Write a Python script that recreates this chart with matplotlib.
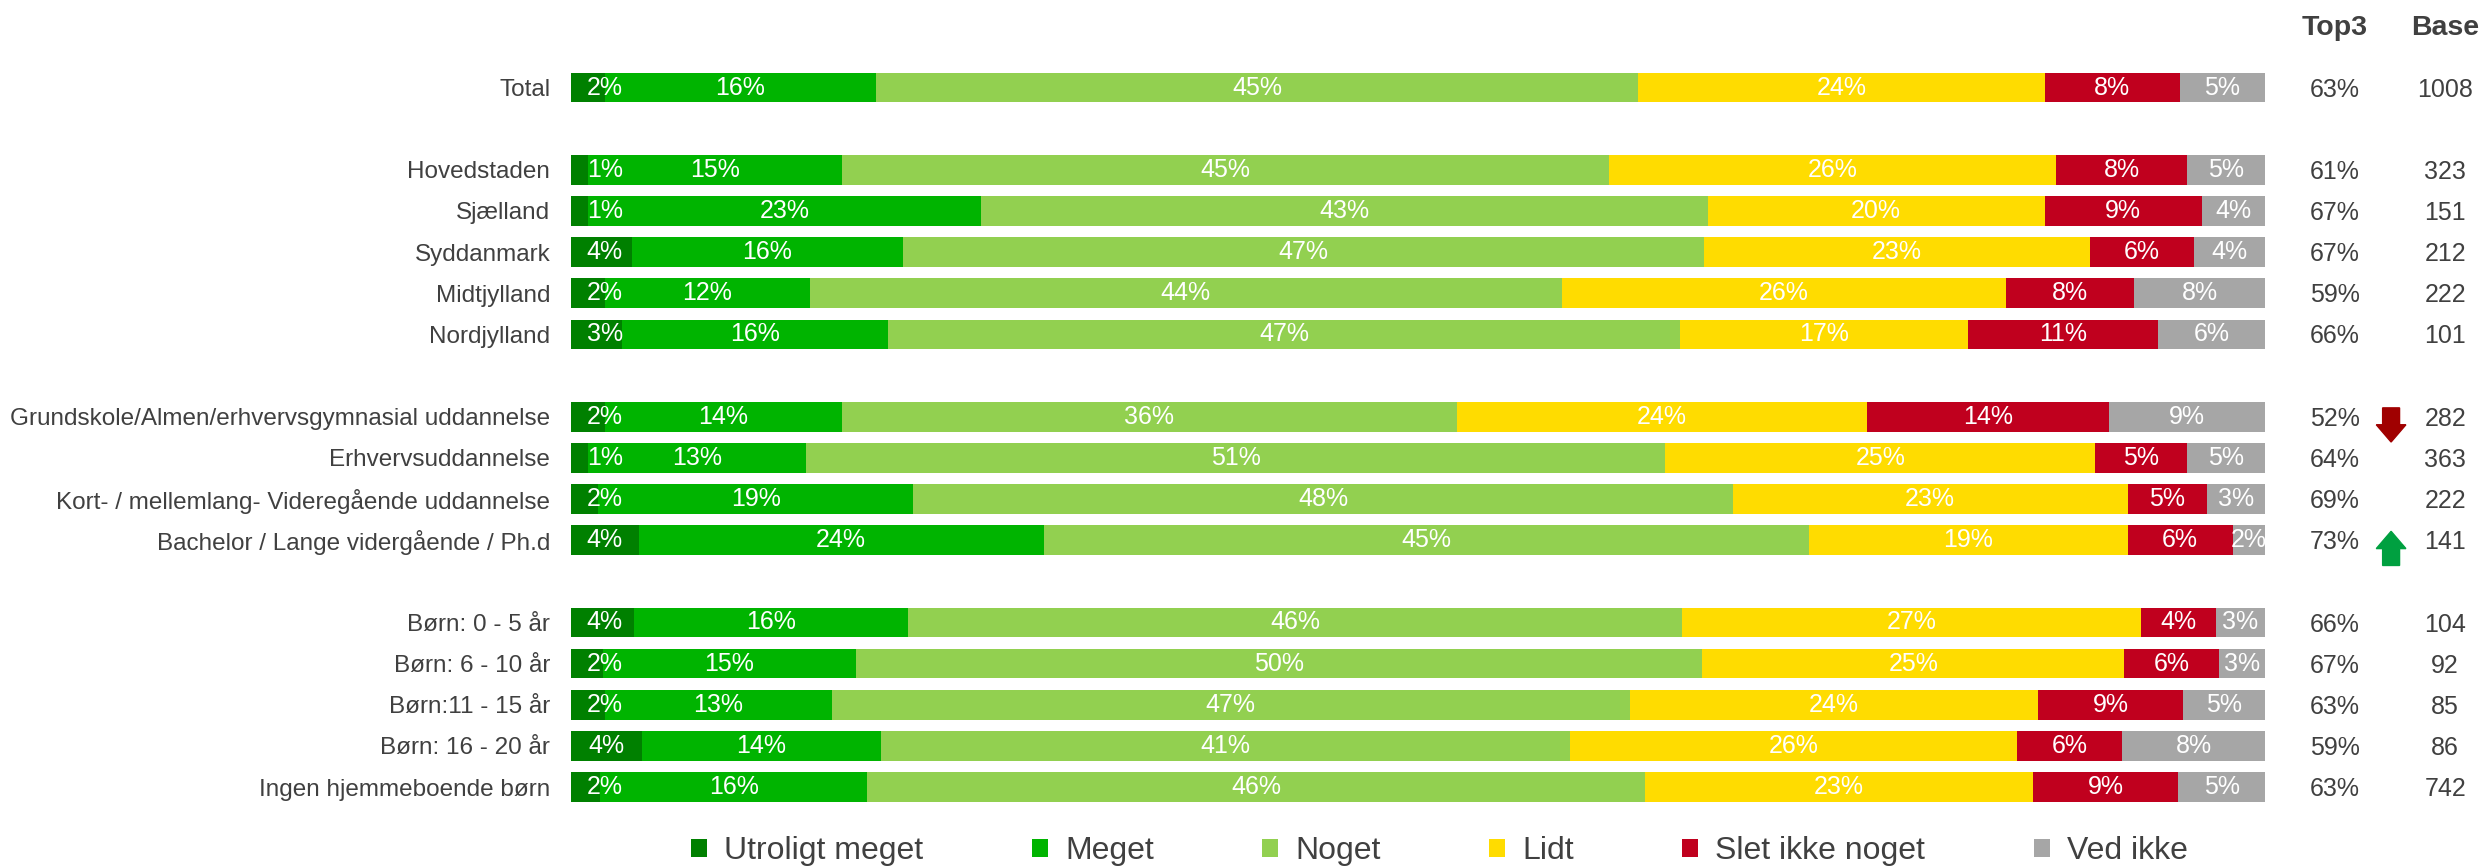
import numpy as np
import matplotlib
matplotlib.use("Agg")
import matplotlib.pyplot as plt
from matplotlib.patches import Patch, Polygon

plt.rcParams["font.family"] = ["Liberation Sans", "DejaVu Sans"]

categories = [
    "Total",
    "Hovedstaden", "Sjælland", "Syddanmark", "Midtjylland", "Nordjylland",
    "Grundskole/Almen/erhvervsgymnasial uddannelse", "Erhvervsuddannelse",
    "Kort- / mellemlang- Videregående uddannelse",
    "Bachelor / Lange vidergående / Ph.d",
    "Børn: 0 - 5 år", "Børn: 6 - 10 år", "Børn:11 - 15 år", "Børn: 16 - 20 år",
    "Ingen hjemmeboende børn",
]
group_sizes = [1, 5, 4, 5]

series_names = ["Utroligt meget", "Meget", "Noget", "Lidt", "Slet ikke noget", "Ved ikke"]
utroligt = [2, 1, 1, 3.6, 2, 3, 2, 1, 1.6, 4, 3.7, 1.9, 2, 4.2, 1.7]
meget = [16, 15, 23.2, 16.0, 12.1, 15.7, 14, 12.9, 18.6, 23.9, 16.2, 14.9, 13.4, 14.1, 15.8]
noget = [45, 45.3, 42.9, 47.3, 44.4, 46.8, 36.3, 50.7, 48.4, 45.2, 45.7, 50.0, 47.1, 40.7, 45.9]
lidt = [24, 26.4, 19.9, 22.8, 26.2, 17.0, 24.2, 25.4, 23.3, 18.8, 27.1, 24.9, 24.1, 26.4, 22.9]
slet = [8, 7.7, 9.3, 6.1, 7.6, 11.2, 14.3, 5.4, 4.7, 6.2, 4.4, 5.6, 8.6, 6.2, 8.6]
ved_ikke = [5, 4.6, 3.7, 4.2, 7.7, 6.3, 9.2, 4.6, 3.4, 1.9, 2.9, 2.7, 4.8, 8.4, 5.1]

top3 = [63, 61, 67, 67, 59, 66, 52, 64, 69, 73, 66, 67, 63, 59, 63]
base = [1008, 323, 151, 212, 222, 101, 282, 363, 222, 141, 104, 92, 85, 86, 742]
# -1 = significantly lower, 1 = significantly higher
significance = [0, 0, 0, 0, 0, 0, -1, 0, 0, 1, 0, 0, 0, 0, 0]

colors = ["#008000", "#00B400", "#92D050", "#FFDC00", "#C0001E", "#A6A6A6"]
text_color = "#404040"

# row positions, one empty row between groups
positions = []
row = 0
for size in group_sizes:
    positions.extend(range(row, row + size))
    row += size + 1
positions = np.array(positions)

fig = plt.figure(figsize=(24.86, 8.66), dpi=100)
ax = fig.add_axes([0.2297, 0.0674, 0.6813, 0.8553])

data = [utroligt, meget, noget, lidt, slet, ved_ikke]
left = np.zeros(len(categories))
for i, (vals, col) in enumerate(zip(data, colors)):
    vals = np.array(vals, dtype=float)
    ax.barh(positions, vals, left=left, height=0.72, color=col, edgecolor="none")
    for y, l, v in zip(positions, left, vals):
        x = l + v / 2
        if i == 0:
            x = max(x, 2.0)
        ax.text(x, y, f"{round(v)}%", ha="center", va="center",
                color="white", fontsize=18)
    left += vals

ax.set_xlim(0, 100)
ax.set_ylim(positions.max() + 0.5, -0.5)
ax.set_yticks(positions)
ax.set_yticklabels(categories, fontsize=17.5, color=text_color)
ax.tick_params(axis="y", length=0, pad=15)
ax.set_xticks([])
for s in ax.spines.values():
    s.set_visible(False)

# right-hand columns
x_top3, x_arrow, x_base = 104.15, 107.46, 110.65
ax.text(x_top3, -1.45, "Top3", ha="center", va="center", fontsize=20.5,
        fontweight="bold", color=text_color, clip_on=False)
ax.text(x_base, -1.45, "Base", ha="center", va="center", fontsize=20.5,
        fontweight="bold", color=text_color, clip_on=False)
for y, t, b, sg in zip(positions, top3, base, significance):
    ax.text(x_top3, y + 0.05, f"{t}%", ha="center", va="center", fontsize=18,
            color=text_color, clip_on=False)
    ax.text(x_base, y + 0.05, f"{b}", ha="center", va="center", fontsize=18,
            color=text_color, clip_on=False)
    if sg != 0:
        c = y + 0.2
        h, hl, sw, hw = 0.83, 0.42, 1.0, 1.75
        if sg < 0:
            tail, tip, d = c - h / 2, c + h / 2, -1
            col = "#A00000"
        else:
            tail, tip, d = c + h / 2, c - h / 2, 1
            col = "#00A040"
        neck = tip + d * hl
        pts = [(x_arrow - sw / 2, tail), (x_arrow + sw / 2, tail),
               (x_arrow + sw / 2, neck), (x_arrow + hw / 2, neck),
               (x_arrow, tip), (x_arrow - hw / 2, neck),
               (x_arrow - sw / 2, neck)]
        ax.add_patch(Polygon(pts, closed=True, color=col, clip_on=False))

handles = [Patch(facecolor=c, edgecolor="none", label=n) for c, n in zip(colors, series_names)]
leg = fig.legend(handles=handles, loc="center", bbox_to_anchor=(0.579, 0.0173),
                 ncol=6, frameon=False, fontsize=23, handlelength=0.5,
                 handleheight=0.5, handletextpad=0.53, columnspacing=3.4)
for t in leg.get_texts():
    t.set_color(text_color)

fig.savefig("out.png", dpi=100)
